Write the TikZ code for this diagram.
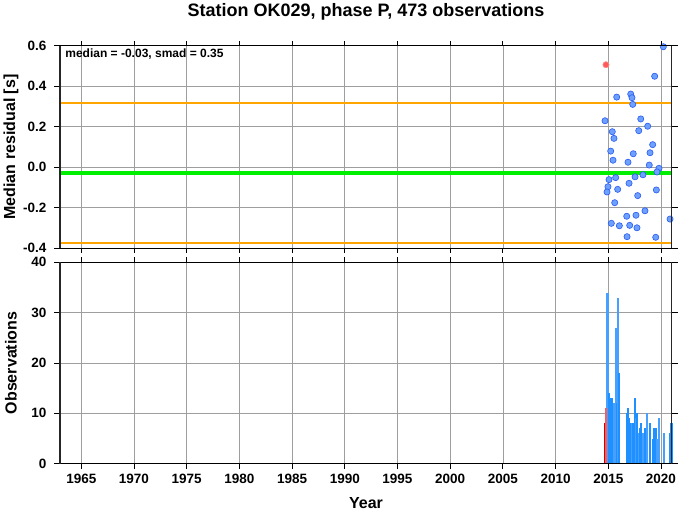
\documentclass[tikz,border=0pt]{standalone}
\usepackage{fontspec}
\setmainfont{Liberation Sans}
\definecolor{medgreen}{RGB}{0,238,0}
\definecolor{bandorange}{RGB}{255,165,0}
\definecolor{dotfill}{RGB}{110,160,255}
\definecolor{dotedge}{RGB}{40,90,240}
\definecolor{barblue}{RGB}{30,144,255}
\definecolor{barpale}{RGB}{70,160,255}
\definecolor{outred}{RGB}{255,90,90}
\tikzset{
  gridline/.style={black!38, line width=0.7pt},
  frameside/.style={black!85, line width=1.8pt},
  frameend/.style={black, line width=1pt},
  tickmark/.style={black, line width=0.8pt},
  ticklab/.style={font=\bfseries\fontsize{13.5}{15}\selectfont, inner sep=0pt},
  axlab/.style={font=\bfseries\fontsize{16}{18}\selectfont, inner sep=0pt},
  resdot/.style={fill=dotfill, draw=dotedge, line width=0.6pt},
}
\begin{document}
\begin{tikzpicture}[x=1pt,y=1pt]
  \useasboundingbox (0,0) rectangle (678,511);

  \node[font=\bfseries\fontsize{18}{20}\selectfont, inner sep=0pt] (title) at (366,499) {Station OK029, phase P, 473 observations};
  \node[axlab, rotate=90] (ylabres) at (11,364) {Median residual [s]};
  \node[axlab, rotate=90] (ylabobs) at (11,148) {Observations};
  \node[axlab] (xlab) at (366,8) {Year};

  % residuals
  \begin{scope}[shift={(28.58pt,343.9pt)}, x=10.54pt, y=202.3pt]
    \foreach \yr in {1965,1970,...,2020}
      \draw[gridline] (\yr-1960,-0.4) -- (\yr-1960,0.6);
    \foreach \v in {-0.2,0,0.2,0.4}
      \draw[gridline] (3,\v) -- (61,\v);

    \draw[bandorange, line width=2.2pt] (3,0.315) -- (61,0.315);
    \draw[bandorange, line width=2.2pt] (3,-0.375) -- (61,-0.375);
    \draw[medgreen, line width=4pt] (3,-0.03) -- (61,-0.03);

    \foreach \yr/\v in {2020.22/0.595,2019.40/0.449,2017.13/0.361,2015.80/0.346,
        2017.25/0.343,2017.32/0.310,2014.69/0.229,2018.08/0.238,2015.38/0.175,
        2018.74/0.202,2017.89/0.180,2015.54/0.142,2019.21/0.111,2015.23/0.079,
        2018.96/0.071,2017.37/0.066,2015.45/0.034,2016.87/0.024,2018.89/0.010,
        2019.81/-0.006,2019.62/-0.024,2018.29/-0.038,2017.54/-0.048,2015.70/-0.052,
        2015.07/-0.062,2016.97/-0.080,2014.97/-0.097,2015.89/-0.110,2019.56/-0.113,
        2014.88/-0.123,2017.79/-0.141,2015.61/-0.176,2018.48/-0.216,2017.63/-0.238,
        2016.75/-0.243,2020.86/-0.257,2015.29/-0.278,2016.05/-0.290,2017.03/-0.288,
        2017.72/-0.300,2016.78/-0.344,2019.50/-0.347}
      \draw[resdot] (\yr-1960,\v) circle (3.1pt);
    \draw[fill=outred, draw=outred!70, line width=0.6pt] (2014.78-1960,0.506) circle (3.1pt);

    \node[font=\bfseries\fontsize{12}{14}\selectfont, inner sep=0pt, anchor=west] (stats) at (3,0.6) [xshift=5pt, yshift=-8.5pt] {median = -0.03, smad = 0.35};

    \foreach \v/\t [count=\i] in {-0.4/-0.4,-0.2/-0.2,0/0.0,0.2/0.2,0.4/0.4,0.6/0.6} {
        \draw[tickmark] (3,\v) -- ++(-6pt,0);
        \draw[tickmark] (61,\v) -- ++(6pt,0);
        \node[ticklab, anchor=east] (rt\i) at (3,\v) [xshift=-13.5pt] {\t};
      }
    \foreach \yr in {1965,1970,...,2020} {
        \draw[tickmark] (\yr-1960,0.6) -- ++(0,5pt);
        \draw[tickmark] (\yr-1960,-0.4) -- ++(0,-5pt);
      }
    \draw[frameend] (3,0.6) -- (61,0.6);
    \draw[frameend] (3,-0.4) -- (61,-0.4);
    \draw[frameside] (3,-0.4) -- (3,0.6);
    \draw[frameside] (61,-0.4) -- (61,0.6);
  \end{scope}

  % observations per month
  \begin{scope}[shift={(28.58pt,47.3pt)}, x=10.54pt, y=5.035pt]
    \foreach \yr in {1965,1970,...,2020}
      \draw[gridline] (\yr-1960,0) -- (\yr-1960,40);
    \foreach \n in {10,20,30}
      \draw[gridline] (3,\n) -- (61,\n);

    \foreach \yr/\n/\c in {2014.84/24/barpale,2014.93/34/barpale,2015.06/14/barblue,
        2015.19/12/barblue,2015.31/13/barblue,2015.44/11/barblue,2015.57/12/barpale,
        2015.69/27/barpale,2015.79/12/barblue,2015.88/33/barpale,2016.02/18/barblue,
        2016.75/10/barblue,2016.87/11/barblue,2017.00/9/barblue,2017.13/8/barblue,
        2017.25/8/barpale,2017.38/8/barblue,2017.51/13/barblue,2017.63/9/barpale,
        2017.75/10/barblue,2017.89/6/barpale,2018.01/7/barblue,2018.14/8/barblue,
        2018.27/6/barpale,2018.46/7/barblue,2018.70/10/barpale,2018.95/8/barblue,
        2019.21/5/barblue,2019.37/7/barblue,2019.50/7/barblue,2019.65/5/barpale,
        2019.81/9/barpale,2020.26/6/barpale,2020.90/6/barblue,2021.00/8/barblue}
      \fill[fill=\c] (\yr-1960-0.1,0) rectangle ++(0.2,\n);
    \fill[red!80!black] (2014.68-1960-0.1,0) rectangle ++(0.2,8);
    \fill[outred] (2014.75-1960-0.1,0) rectangle ++(0.2,11);

    \foreach \n [count=\i] in {0,10,20,30,40} {
        \draw[tickmark] (3,\n) -- ++(-6pt,0);
        \draw[tickmark] (61,\n) -- ++(6pt,0);
        \node[ticklab, anchor=east] (ot\i) at (3,\n) [xshift=-13.5pt] {\n};
      }
    \foreach \yr in {1965,1970,...,2020} {
        \draw[tickmark] (\yr-1960,40) -- ++(0,5pt);
        \draw[tickmark] (\yr-1960,0) -- ++(0,-5pt);
        \node[ticklab] (yr\yr) at (\yr-1960,0) [yshift=-15.3pt] {\yr};
      }
    \draw[frameend] (3,40) -- (61,40);
    \draw[frameend] (3,0) -- (61,0);
    \draw[frameside] (3,0) -- (3,40);
    \draw[frameside] (61,0) -- (61,40);
  \end{scope}
\end{tikzpicture}
\end{document}
